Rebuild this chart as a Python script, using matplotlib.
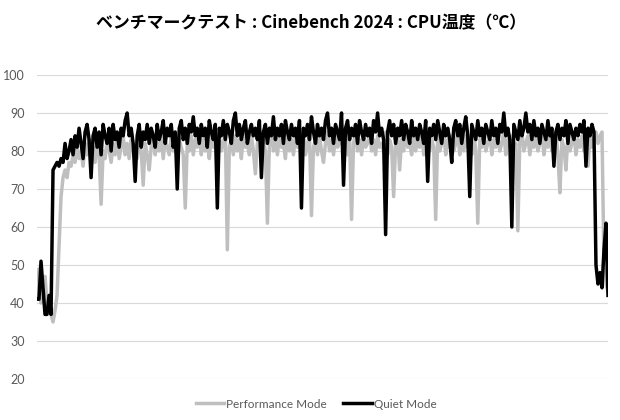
import matplotlib
matplotlib.use('Agg')
import matplotlib.pyplot as plt
import numpy as np

plt.rcParams['font.family'] = ['Lato', 'DejaVu Sans']

title = 'ベンチマークテスト : Cinebench 2024 : CPU温度（℃）'
series_names = ['Performance Mode', 'Quiet Mode']
y_ticks = [20, 30, 40, 50, 60, 70, 80, 90, 100]

# CPU temperature samples (deg C)
performance = [
    41, 49, 40, 44, 47, 40, 42, 37, 35, 38,
    42, 55, 68, 73, 75, 73, 77, 76, 79, 77,
    81, 78, 80, 76, 82, 79, 83, 78, 81, 77,
    82, 79, 66, 80, 78, 83, 80, 77, 82, 79,
    83, 78, 81, 84, 79, 82, 78, 83, 80, 81,
    78, 83, 80, 71, 82, 79, 75, 81, 84, 79,
    82, 80, 84, 78, 83, 81, 79, 84, 80, 82,
    78, 83, 81, 79, 65, 82, 80, 84, 79, 83,
    81, 85, 79, 83, 80, 82, 78, 84, 81, 83,
    79, 84, 80, 82, 85, 54, 81, 83, 79, 84,
    80, 83, 78, 85, 81, 82, 79, 84, 80, 74,
    82, 84, 79, 83, 80, 61, 82, 85, 80, 83,
    79, 84, 81, 82, 78, 85, 80, 83, 79, 84,
    81, 83, 80, 85, 79, 82, 84, 63, 81, 83,
    79, 84, 80, 77, 82, 85, 80, 83, 79, 84,
    81, 82, 85, 80, 83, 79, 84, 62, 82, 85,
    80, 83, 79, 84, 81, 82, 85, 80, 83, 79,
    84, 81, 82, 80, 85, 79, 83, 81, 68, 82,
    84, 75, 83, 80, 85, 81, 82, 79, 84, 80,
    83, 81, 85, 79, 82, 84, 80, 83, 81, 62,
    84, 80, 82, 85, 79, 83, 81, 84, 80, 82,
    85, 79, 83, 80, 84, 81, 82, 79, 85, 80,
    61, 83, 81, 84, 80, 82, 85, 79, 83, 81,
    84, 80, 82, 85, 79, 83, 81, 84, 80, 82,
    59, 83, 85, 80, 82, 84, 79, 83, 81, 84,
    80, 82, 85, 79, 83, 81, 84, 80, 82, 85,
    79, 69, 83, 81, 75, 84, 80, 82, 85, 79,
    83, 81, 84, 80, 82, 76, 84, 81, 83, 85,
    82, 84, 85, 50, 45, 43]

quiet = [
    41, 41, 51, 44, 37, 37, 42, 37, 75, 76,
    77, 76, 78, 77, 82, 78, 80, 83, 79, 84,
    81, 86, 82, 78, 85, 87, 83, 73, 84, 86,
    81, 85, 79, 87, 84, 82, 86, 80, 87, 83,
    85, 81, 86, 84, 88, 90, 84, 86, 82, 72,
    84, 87, 81, 85, 83, 87, 82, 86, 84, 81,
    87, 83, 85, 88, 82, 86, 84, 87, 81, 85,
    70, 86, 88, 83, 86, 82, 87, 85, 89, 84,
    86, 82, 87, 84, 86, 81, 88, 85, 83, 87,
    65, 86, 84, 88, 83, 87, 85, 82, 88, 90,
    84, 87, 83, 86, 88, 82, 85, 87, 84, 86,
    83, 88, 73, 85, 87, 82, 86, 84, 89, 83,
    86, 84, 87, 82, 88, 85, 83, 87, 84, 86,
    82, 88, 65, 86, 84, 87, 83, 89, 85, 82,
    87, 84, 86, 83, 88, 90, 84, 86, 82, 87,
    85, 83, 90, 71, 86, 88, 83, 86, 84, 87,
    82, 88, 85, 83, 87, 84, 86, 82, 88, 85,
    90, 84, 86, 83, 58, 85, 88, 84, 87, 82,
    86, 84, 88, 83, 87, 85, 82, 88, 84, 86,
    83, 87, 85, 82, 88, 72, 86, 84, 87, 83,
    88, 85, 82, 87, 84, 86, 83, 77, 86, 88,
    84, 87, 82, 86, 89, 84, 68, 87, 85, 83,
    88, 84, 86, 82, 87, 85, 83, 88, 84, 86,
    82, 87, 85, 90, 84, 86, 83, 60, 87, 85,
    83, 88, 84, 86, 90, 85, 87, 83, 88, 84,
    86, 82, 87, 85, 83, 88, 84, 86, 76, 85,
    87, 83, 86, 84, 88, 82, 87, 85, 83, 86,
    84, 87, 85, 88, 76, 86, 84, 87, 85, 50,
    45, 48, 44, 54, 61, 42]

fig = plt.figure(figsize=(6.2, 4.2), dpi=100)
ax = fig.add_axes([37 / 620., 41 / 420., 571 / 620., 304 / 420.])

ax.plot(np.arange(len(performance)), performance, color='#BFBFBF', lw=2.5,
        label=series_names[0], solid_joinstyle='round')
ax.plot(np.arange(len(quiet)), quiet, color='#000000', lw=2.5,
        label=series_names[1], solid_joinstyle='round')

ax.set_xlim(0, len(quiet) - 1)
ax.set_ylim(20, 100)
ax.set_yticks(y_ticks)
ax.set_xticks([])
ax.grid(axis='y', color='#D9D9D9', lw=0.8)
ax.set_axisbelow(True)
for s in ax.spines.values():
    s.set_visible(False)
ax.tick_params(axis='y', length=0, pad=9, labelsize=9, labelcolor='#595959')

fig.text(0.502, 0.945, title, ha='center', va='center', fontsize=12.2,
         fontweight='bold', family=['Noto Sans CJK JP', 'DejaVu Sans'])

fig.legend(loc='center', bbox_to_anchor=(0.51, 16 / 420.), ncol=2,
           frameon=False, fontsize=8.5, labelcolor='#595959',
           handlelength=2.4, handletextpad=0.15, columnspacing=1.4)

fig.savefig('out.png', dpi=100)
